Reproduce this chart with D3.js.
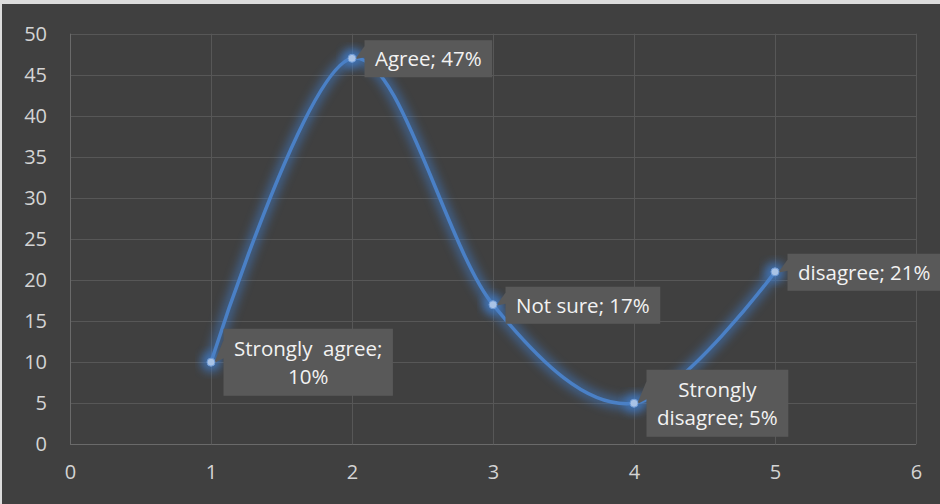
<!DOCTYPE html>
<html><head><meta charset="utf-8">
<script src="https://cdn.jsdelivr.net/npm/d3@7"></script>
<style>
html,body{margin:0;padding:0;background:#d9d9d9;}
svg{display:block;}
</style></head>
<body>
<script>
const xValues = [1, 2, 3, 4, 5];
const yValues = [10, 47, 17, 5, 21];
const labelLines = [["Strongly  agree;", "10%"], ["Agree; 47%"], ["Not sure; 17%"], ["Strongly", "disagree; 5%"], ["disagree; 21%"]];
const xTicks = [0, 1, 2, 3, 4, 5, 6];
const yTicks = [0, 5, 10, 15, 20, 25, 30, 35, 40, 45, 50];

const W = 940, H = 504;
const svg = d3.select("body").append("svg").attr("width", W).attr("height", H);
const font = "'Open Sans', 'DejaVu Sans', sans-serif";

svg.append("rect").attr("x", 0).attr("y", 0).attr("width", W).attr("height", H).attr("fill", "#dcdcdc");
svg.append("rect").attr("x", 2).attr("y", 4).attr("width", W - 2).attr("height", H - 4).attr("fill", "#404040");

const defs = svg.append("defs");
const f = defs.append("filter").attr("id", "glow").attr("x", "-30%").attr("y", "-30%").attr("width", "160%").attr("height", "160%");
f.append("feGaussianBlur").attr("stdDeviation", 5);

const x = d3.scaleLinear().domain([0, 6]).range([70, 916]);
const y = d3.scaleLinear().domain([0, 50]).range([444.3, 33.7]);

const g = svg.append("g");
g.selectAll("line.h").data(yTicks).join("line")
  .attr("x1", x(0)).attr("x2", x(6)).attr("y1", d => Math.round(y(d)) + 0.5).attr("y2", d => Math.round(y(d)) + 0.5)
  .attr("stroke", d => d === 0 ? "#6a6a6a" : "#575757").attr("stroke-width", 1);
g.selectAll("line.v").data(xTicks).join("line")
  .attr("y1", y(0)).attr("y2", y(50)).attr("x1", d => Math.round(x(d)) + 0.5).attr("x2", d => Math.round(x(d)) + 0.5)
  .attr("stroke", d => d === 0 ? "#6a6a6a" : "#575757").attr("stroke-width", 1);

const yAxis = svg.append("g").attr("transform", `translate(${x(0)},0)`)
  .call(d3.axisLeft(y).tickValues(yTicks).tickFormat(d3.format("d")).tickSize(0).tickPadding(23));
const xAxis = svg.append("g").attr("transform", `translate(0,${y(0)})`)
  .call(d3.axisBottom(x).tickValues(xTicks).tickFormat(d3.format("d")).tickSize(0).tickPadding(21));
[yAxis, xAxis].forEach(a => {
  a.select(".domain").remove();
  a.selectAll("text").attr("fill", "#d4d4d4").style("font-family", font).style("font-size", "20px");
});

const pts = xValues.map((v, i) => [x(v), y(yValues[i])]);
const line = d3.line().curve(d3.curveCardinal.tension(0));

svg.append("path").attr("d", line(pts)).attr("fill", "none")
  .attr("stroke", "#3f7fd0").attr("stroke-width", 12).attr("opacity", 0.5).attr("filter", "url(#glow)");
svg.selectAll("circle.glow").data(pts).join("circle")
  .attr("cx", d => d[0]).attr("cy", d => d[1]).attr("r", 10)
  .attr("fill", "#3f7fd0").attr("opacity", 0.7).attr("filter", "url(#glow)");
svg.append("path").attr("d", line(pts)).attr("fill", "none")
  .attr("stroke", "#4a80c6").attr("stroke-width", 3.5).attr("stroke-linecap", "round");

const lab = svg.append("g");
pts.forEach((p, i) => {
  const lines = labelLines[i];
  const grp = lab.append("g");
  const texts = lines.map(s => grp.append("text").text(s)
    .attr("xml:space", "preserve").style("white-space", "pre")
    .style("font-family", font).style("font-size", "20.5px").attr("fill", "#f2f2f2").attr("text-anchor", "middle"));
  const maxW = d3.max(texts, t => t.node().getComputedTextLength());
  const lh = 28;
  const bw = maxW + 21;
  const bh = lines.length === 1 ? 37 : 67;
  const bx = p[0] + 12.5;
  const by = lines.length === 1 ? p[1] - 18 : p[1] - 33.5;
  const tTop = lines.length === 1 ? p[1] - 12 : p[1] - 22;
  const tBot = lines.length === 1 ? p[1] - 1 : p[1] - 4;
  grp.insert("path", "text")
    .attr("d", `M${bx},${by}H${bx + bw}V${by + bh}H${bx}V${tBot}L${p[0] + 3},${p[1] + 1}L${bx},${tTop}Z`)
    .attr("fill", "#595959");
  const cy = by + bh / 2;
  texts.forEach((t, k) => {
    const off = (k - (lines.length - 1) / 2) * lh;
    t.attr("x", bx + bw / 2).attr("y", cy + off).attr("dy", "0.36em");
  });
});

svg.selectAll("circle.m").data(pts).join("circle")
  .attr("cx", d => d[0]).attr("cy", d => d[1]).attr("r", 4)
  .attr("fill", "#a9c3e6").attr("stroke", "#6f9bd6").attr("stroke-width", 1);
</script>
</body></html>
